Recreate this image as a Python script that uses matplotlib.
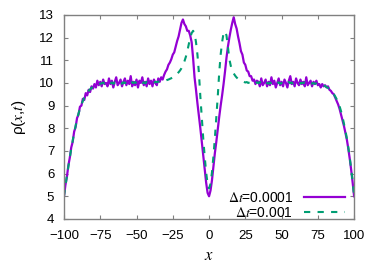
import numpy as np ;
import matplotlib
matplotlib.use("Agg") ;
import matplotlib.pyplot as plt ;

# density profiles rho(x,t), x = -100..100 step 1
x = np.arange(-100, 101, 1) ;

rho_dt0001 = [
  5.0, 5.5, 5.85, 6.35, 6.7, 7.15, 7.4, 7.85, 8.05, 8.45,
  8.6, 8.95, 9.0, 9.3, 9.25, 9.55, 9.45, 9.7, 9.6, 9.85,
  9.75, 9.95, 9.8, 10.1, 9.9, 10.05, 9.85, 10.15, 9.95, 10.0,
  9.85, 10.2, 9.95, 10.1, 9.8, 10.05, 10.25, 9.9, 10.0, 10.15,
  9.85, 10.05, 10.2, 9.9, 10.1, 9.95, 10.3, 9.85, 10.05, 9.9,
  10.15, 9.8, 10.1, 10.0, 10.25, 9.9, 10.05, 9.85, 10.2, 9.95,
  10.1, 9.85, 10.15, 10.0, 9.9, 10.2, 10.05, 10.25, 10.15, 10.35,
  10.5, 10.6, 10.8, 10.9, 11.05, 11.25, 11.35, 11.6, 11.85, 12.05,
  12.35, 12.65, 12.8, 12.6, 12.5, 12.3, 12.3, 12.1, 11.8, 11.1,
  10.25, 9.7, 9.1, 8.55, 8.0, 7.4, 6.8, 6.2, 5.6, 5.15,
  5.0,
  5.25, 5.7, 6.3, 6.9, 7.4, 7.95, 8.5, 9.0, 9.45, 9.95,
  10.5, 11.1, 11.6, 12.0, 12.35, 12.65, 12.9, 12.6, 12.4, 12.05,
  11.75, 11.4, 11.25, 10.9, 10.8, 10.55, 10.5, 10.3, 10.3, 10.1,
  10.15, 9.95, 10.1, 10.05, 9.85, 10.2, 9.9, 10.0, 10.15, 9.85,
  10.05, 9.9, 10.25, 9.95, 10.1, 9.8, 10.0, 10.2, 9.9, 10.05,
  9.85, 10.15, 10.0, 9.8, 10.1, 10.3, 9.95, 10.05, 9.85, 10.2,
  10.0, 9.9, 10.15, 9.95, 10.05, 9.85, 10.25, 9.9, 10.0, 10.1,
  9.85, 10.05, 9.95, 10.1, 9.9, 9.95, 9.8, 9.95, 9.85, 9.9,
  9.8, 9.85, 9.7, 9.65, 9.55, 9.5, 9.35, 9.2, 9.05, 8.85,
  8.6, 8.35, 8.1, 7.8, 7.5, 7.1, 6.65, 6.15, 5.6, 5.0,
] ;

rho_dt001 = [
  5.0, 5.45, 5.9, 6.3, 6.7, 7.1, 7.45, 7.8, 8.1, 8.4,
  8.65, 8.85, 9.05, 9.2, 9.35, 9.45, 9.55, 9.65, 9.72, 9.78,
  9.83, 9.87, 9.9, 9.93, 9.95, 9.97, 9.98, 10.02, 9.97, 10.03,
  9.98, 10.04, 9.99, 10.02, 9.96, 10.03, 10.0, 9.97, 10.04, 10.0,
  9.97, 10.03, 9.99, 10.05, 9.98, 10.01, 9.96, 10.03, 10.0, 10.04,
  9.98, 10.02, 9.97, 10.04, 10.0, 10.03, 9.98, 10.05, 10.01, 10.03,
  10.0, 10.04, 10.02, 10.05, 10.03, 10.06, 10.05, 10.08, 10.07, 10.1,
  10.1, 10.13, 10.15, 10.18, 10.21, 10.25, 10.3, 10.35, 10.4, 10.47,
  10.55, 10.65, 10.78, 10.95, 11.15, 11.4, 11.7, 12.0, 12.2, 12.3,
  12.2, 11.8, 11.25, 10.45, 9.4, 8.45, 7.55, 6.75, 6.05, 5.55,
  5.35,
  5.55, 6.05, 6.75, 7.55, 8.45, 9.4, 10.45, 11.25, 11.8, 12.2,
  12.28, 12.1, 11.6, 11.05, 10.75, 10.55, 10.42, 10.32, 10.24, 10.18,
  10.13, 10.1, 10.06, 10.05, 10.02, 10.04, 10.0, 10.03, 9.98, 10.02,
  10.0, 9.97, 10.03, 9.99, 10.04, 9.98, 10.02, 9.96, 10.03, 10.0,
  9.97, 10.02, 9.99, 10.04, 9.97, 10.01, 9.98, 10.03, 9.96, 10.0,
  10.03, 9.98, 10.01, 9.97, 10.04, 9.99, 10.02, 9.97, 10.03, 10.0,
  9.98, 10.02, 9.97, 10.01, 9.99, 10.03, 9.96, 10.0, 9.98, 9.99,
  9.97, 10.0, 9.96, 9.98, 9.95, 9.96, 9.93, 9.92, 9.89, 9.86,
  9.82, 9.78, 9.72, 9.66, 9.58, 9.5, 9.4, 9.28, 9.14, 8.97,
  8.75, 8.5, 8.2, 7.9, 7.55, 7.15, 6.7, 6.2, 5.65, 5.0,
] ;

labels = [r"$\Delta t$=0.0001", r"$\Delta t$=0.001"] ;
xticks = [-100, -75, -50, -25, 0, 25, 50, 75, 100] ;
yticks = [4, 5, 6, 7, 8, 9, 10, 11, 12, 13] ;

plt.rcParams["font.family"] = ["Liberation Sans", "DejaVu Sans"] ;
plt.rcParams["mathtext.fontset"] = "stix" ;
plt.rcParams["mathtext.rm"] = "Liberation Sans" ;

fig = plt.figure(figsize=(3.82, 2.67), dpi=100) ;
ax = fig.add_axes([0.1675, 0.18, 0.7595, 0.764]) ;

ax.plot(x, rho_dt0001, color="#9400d3", lw=1.6, label=labels[0]) ;
ax.plot(x, rho_dt001, color="#009e73", lw=1.5, dashes=(3, 3.5), label=labels[1]) ;

ax.set_xlim(-100, 100) ;
ax.set_ylim(4, 13) ;
ax.set_xticks(xticks) ;
ax.set_yticks(yticks) ;
ax.tick_params(direction="in", top=True, right=True, length=3, width=0.8,
               color="#808080", labelsize=9.5) ;
ax.tick_params(axis="x", pad=8) ;
ax.tick_params(axis="y", pad=7) ;
for s in ax.spines.values():
  s.set_color("#808080") ;
  s.set_linewidth(1.0) ;

ax.set_xlabel(r"$x$", fontsize=12, labelpad=4) ;
ax.set_ylabel(r"ρ($x$,$t$)", fontsize=11, labelpad=8) ;

ax.legend(loc="lower right", frameon=False, markerfirst=False, fontsize=10,
          handlelength=2.9, handletextpad=0.8, labelspacing=0.02,
          borderaxespad=0.0, borderpad=0.1, bbox_to_anchor=(0.972, -0.01)) ;

fig.savefig("out.png", dpi=100) ;
